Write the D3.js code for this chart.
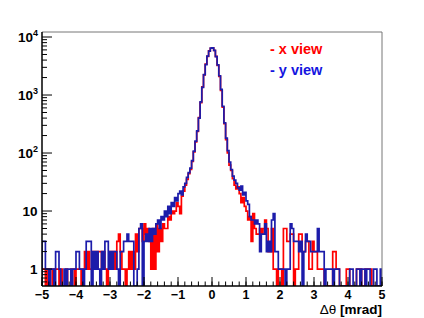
<!DOCTYPE html>
<html>
<head>
<meta charset="utf-8">
<script src="https://cdn.jsdelivr.net/npm/d3@7"></script>
<style>
  body { margin: 0; background: #fff; }
  text { font-family: "Liberation Sans", Arial, sans-serif; font-weight: bold; }
</style>
</head>
<body>
<script>
// histogram binning: 200 bins of 0.05 mrad from -5 to 5
const binLo = -5, binWidth = 0.05;

// x view counts per bin
const xView = [
  1, 1, 0, 1, 1, 1, 0, 1, 1, 1,   0, 1, 0, 0, 1, 0, 0, 1, 1, 0,
  1, 1, 1, 0, 1, 2, 1, 2, 1, 1,   2, 2, 1, 2, 2, 1, 2, 1, 0, 1,
  2, 1, 2, 1, 3, 4, 2, 1, 1, 0,   1, 2, 1, 2, 1, 4, 2, 5, 5, 3,
  6, 4, 5, 3, 1, 5, 1, 6, 2, 5,   3, 6, 5, 5, 8, 7, 10, 9, 10, 14,
  12, 9, 18, 22, 28, 35, 44, 52, 72, 105,
  156, 235, 410, 740, 1380, 2220, 3400, 4650, 5750, 6400,
  6450, 5850, 4650, 3250, 2100, 1200, 620, 320, 170, 100,
  62, 50, 36, 28, 24, 26, 20, 14, 17, 12,
  10, 7, 8, 3, 9, 5, 4, 4, 5, 4,   5, 7, 5, 2, 2, 5, 1, 1, 0, 1,
  1, 0, 5, 5, 3, 3, 4, 4, 0, 1,   1, 4, 4, 2, 2, 3, 3, 1, 1, 3,
  2, 2, 1, 1, 1, 1, 0, 0, 0, 0,   0, 2, 2, 1, 1, 0, 0, 0, 0, 1,
  1, 0, 0, 0, 0, 1, 1, 1, 0, 0,   1, 1, 1, 1, 0, 0, 0, 0, 0, 0
];

// y view counts per bin
const yView = [
  3, 3, 1, 1, 0, 1, 1, 0, 2, 2,   1, 0, 0, 1, 0, 1, 1, 0, 1, 1,
  2, 2, 1, 1, 0, 1, 3, 3, 3, 0,   2, 1, 2, 1, 0, 2, 1, 3, 3, 1,
  2, 1, 2, 2, 1, 0, 2, 2, 3, 3,   4, 3, 3, 3, 0, 0, 1, 5, 6, 0,
  3, 4, 3, 5, 3, 5, 4, 6, 7, 5,   8, 7, 10, 8, 12, 9, 14, 12, 17, 15,
  20, 22, 19, 26, 30, 38, 46, 55, 74, 108,
  160, 240, 400, 760, 1350, 2250, 3350, 4700, 5700, 6450,
  6500, 5900, 4600, 3300, 2150, 1250, 640, 330, 180, 110,
  70, 52, 40, 34, 30, 25, 23, 27, 19, 21,
  15, 13, 8, 7, 7, 6, 7, 6, 2, 4,   4, 6, 2, 3, 2, 7, 9, 2, 2, 1,
  1, 1, 1, 0, 1, 1, 6, 5, 3, 3,   3, 2, 3, 0, 2, 4, 3, 3, 2, 2,
  2, 2, 5, 2, 2, 2, 0, 1, 1, 1,   1, 0, 1, 1, 1, 0, 0, 0, 0, 0,
  0, 1, 1, 0, 0, 1, 1, 0, 1, 1,   0, 1, 1, 0, 0, 1, 1, 0, 0, 1
];

const xTicks = [-5, -4, -3, -2, -1, 0, 1, 2, 3, 4, 5];
const yMajor = [1, 10, 100, 1000, 10000];
const yExp = [null, null, 2, 3, 4];
const yMinor = [0.6, 0.7, 0.8, 0.9,
  2, 3, 4, 5, 6, 7, 8, 9, 20, 30, 40, 50, 60, 70, 80, 90,
  200, 300, 400, 500, 600, 700, 800, 900, 2000, 3000, 4000, 5000, 6000, 7000, 8000, 9000];

const width = 424, height = 318;
const margin = { top: 32, right: 42, bottom: 32, left: 42 };
const yMin = 0.51;

const svg = d3.select('body').append('svg')
  .attr('width', width).attr('height', height);

const x = d3.scaleLinear().domain([-5, 5]).range([margin.left, width - margin.right]);
const y = d3.scaleLog().domain([yMin, 12200]).range([height - margin.bottom, margin.top]);

svg.append('clipPath').attr('id', 'frame')
  .append('rect')
  .attr('x', x(-5)).attr('y', y(12200))
  .attr('width', x(5) - x(-5)).attr('height', y(yMin) - y(12200));

// step outline like a ROOT histogram
function steps(counts) {
  const pts = [[binLo, yMin]];
  counts.forEach((c, i) => pts.push([binLo + i * binWidth, Math.max(c, yMin)]));
  const last = binLo + counts.length * binWidth;
  pts.push([last, Math.max(counts[counts.length - 1], yMin)]);
  pts.push([last, yMin]);
  return pts;
}

const line = d3.line()
  .x(d => x(d[0]))
  .y(d => y(d[1]))
  .curve(d3.curveStepAfter);

const plot = svg.append('g').attr('clip-path', 'url(#frame)');

plot.append('path')
  .attr('d', line(steps(xView)))
  .attr('fill', 'none').attr('stroke', '#ff0000').attr('stroke-width', 1.7);

plot.append('path')
  .attr('d', line(steps(yView)))
  .attr('fill', 'none').attr('stroke', '#1c1caa').attr('stroke-width', 1.7);

// frame top / right
svg.append('path')
  .attr('d', `M${x(-5)},${y(12200)}H${x(5)}V${y(yMin)}`)
  .attr('fill', 'none').attr('stroke', '#777').attr('stroke-width', 1);

// x axis
const xaxis = svg.append('g').attr('transform', `translate(0, ${y(yMin)})`);
xaxis.append('line')
  .attr('x1', x(-5)).attr('x2', x(5))
  .attr('stroke', '#000').attr('stroke-width', 1.5);
xaxis.selectAll('.minor')
  .data(d3.range(0, 51).map(i => -5 + i * 0.2))
  .enter().append('line')
  .attr('x1', d => x(d)).attr('x2', d => x(d))
  .attr('y1', 0).attr('y2', -4.5)
  .attr('stroke', '#000');
xaxis.selectAll('.major')
  .data(xTicks)
  .enter().append('line')
  .attr('x1', d => x(d)).attr('x2', d => x(d))
  .attr('y1', 0).attr('y2', -9)
  .attr('stroke', '#000');
xaxis.selectAll('text')
  .data(xTicks)
  .enter().append('text')
  .attr('x', d => x(d)).attr('y', 13)
  .attr('text-anchor', 'middle')
  .style('font-size', '12.5px')
  .text(d => d < 0 ? '\u2212' + (-d) : d);

svg.append('text')
  .attr('x', x(5)).attr('y', 314)
  .attr('text-anchor', 'end')
  .style('font-size', '13.5px')
  .html('<tspan style="font-weight:normal">\u0394\u03b8</tspan> [mrad]');

// y axis
const yaxis = svg.append('g').attr('transform', `translate(${x(-5)}, 0)`);
yaxis.append('line')
  .attr('y1', y(yMin)).attr('y2', y(12200))
  .attr('stroke', '#000').attr('stroke-width', 1.5);
yaxis.selectAll('.minor')
  .data(yMinor)
  .enter().append('line')
  .attr('y1', d => y(d)).attr('y2', d => y(d))
  .attr('x1', 0).attr('x2', 5)
  .attr('stroke', '#000');
yaxis.selectAll('.major')
  .data(yMajor)
  .enter().append('line')
  .attr('y1', d => y(d)).attr('y2', d => y(d))
  .attr('x1', 0).attr('x2', 10)
  .attr('stroke', '#000');

const ylab = yaxis.selectAll('text')
  .data(yMajor)
  .enter().append('text')
  .attr('x', (d, i) => yExp[i] ? -9 : -4.5)
  .attr('y', d => y(d) + 5)
  .attr('text-anchor', 'end')
  .style('font-size', '13.5px');
ylab.append('tspan').text((d, i) => yExp[i] ? '10' : d);
ylab.filter((d, i) => yExp[i])
  .append('tspan')
  .attr('dy', -6).attr('x', -4)
  .style('font-size', '9px')
  .text((d, i) => yExp[yMajor.indexOf(d)]);

// legend text
svg.append('text').attr('x', 270).attr('y', 54)
  .style('font-size', '14.5px').attr('fill', '#ff0000').text('- x view');
svg.append('text').attr('x', 270).attr('y', 75)
  .style('font-size', '14.5px').attr('fill', '#1414e0').text('- y view');
</script>
</body>
</html>
